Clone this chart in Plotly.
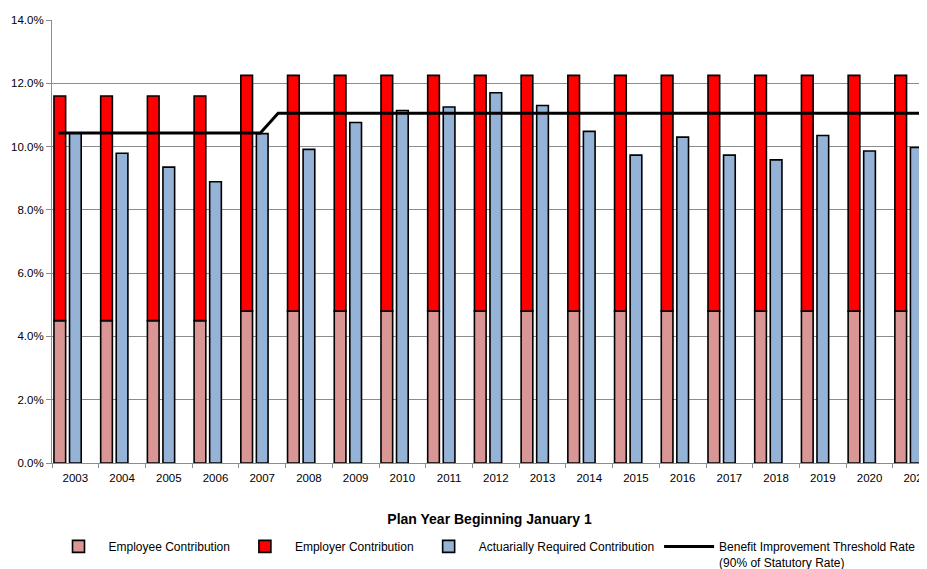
import plotly.graph_objects as go

years = [2003, 2004, 2005, 2006, 2007, 2008, 2009, 2010, 2011, 2012,
         2013, 2014, 2015, 2016, 2017, 2018, 2019, 2020, 2021]
year_labels = [str(y) for y in years]

employee = [4.5, 4.5, 4.5, 4.5, 4.8, 4.8, 4.8, 4.8, 4.8, 4.8,
            4.8, 4.8, 4.8, 4.8, 4.8, 4.8, 4.8, 4.8, 4.8]
employer = [7.1, 7.1, 7.1, 7.1, 7.45, 7.45, 7.45, 7.45, 7.45, 7.45,
            7.45, 7.45, 7.45, 7.45, 7.45, 7.45, 7.45, 7.45, 7.45]
actuarial = [10.43, 9.79, 9.35, 8.89, 10.41, 9.91, 10.76, 11.14, 11.25, 11.7,
             11.3, 10.48, 9.73, 10.3, 9.73, 9.58, 10.35, 9.86, 9.97]

threshold_x = [2002.64, 2006.96, 2007.34, 2021.6]
threshold_y = [10.43, 10.43, 11.05, 11.05]

boundaries = [y - 0.5 for y in years] + [years[-1] + 0.5]

font = "Liberation Sans, Arial, sans-serif"
bar_w = 0.25
outline = dict(color="black", width=1.6)

fig = go.Figure()
fig.add_trace(go.Bar(
    x=years, y=employee, name="Employee Contribution",
    width=bar_w, offset=-0.458,
    marker=dict(color="#D99694", line=outline),
))
fig.add_trace(go.Bar(
    x=years, y=employer, base=employee, name="Employer Contribution",
    width=bar_w, offset=-0.458,
    marker=dict(color="#FF0000", line=outline),
))
fig.add_trace(go.Bar(
    x=years, y=actuarial, name="Actuarially Required Contribution",
    width=bar_w, offset=-0.125,
    marker=dict(color="#95B3D7", line=outline),
))
fig.add_trace(go.Scatter(
    x=threshold_x, y=threshold_y, mode="lines",
    name="Benefit Improvement Threshold Rate<br>(90% of Statutory Rate)",
    line=dict(color="black", width=3),
))

fig.update_layout(
    width=919, height=561,
    barmode="overlay",
    plot_bgcolor="white", paper_bgcolor="white",
    margin=dict(l=44, r=0, t=12, b=106, autoexpand=False),
    font=dict(family=font, size=11, color="black"),
    showlegend=True,
    legend=dict(
        orientation="h", x=-0.004, xanchor="left", y=-0.156, yanchor="top",
        valign="top", font=dict(size=12), itemwidth=50,
        traceorder="normal",
    ),
)
fig.update_xaxes(
    range=[2002.5, 2021.23],
    tickmode="array", tickvals=years, ticktext=year_labels,
    ticks="", showgrid=False, automargin=False,
    ticklabeloverflow="allow", ticklabelstandoff=4,
    showline=True, linecolor="#8c8c8c", linewidth=1,
    tickfont=dict(size=11.5),
    minor=dict(tickmode="array", tickvals=boundaries, ticks="outside",
               ticklen=4, tickcolor="#8c8c8c", showgrid=False),
    title=dict(text="<b>Plan Year Beginning January 1</b>",
               font=dict(size=14), standoff=31),
    zeroline=False,
)
fig.update_yaxes(
    range=[0, 14], dtick=2, ticksuffix="%", tickformat=".1f",
    showgrid=True, gridcolor="#8c8c8c", gridwidth=1, automargin=False,
    showline=True, linecolor="#8c8c8c", linewidth=1,
    ticks="outside", ticklen=5, tickcolor="#8c8c8c",
    tickfont=dict(size=11.5), zeroline=False,
)

fig.write_html("out.html")
